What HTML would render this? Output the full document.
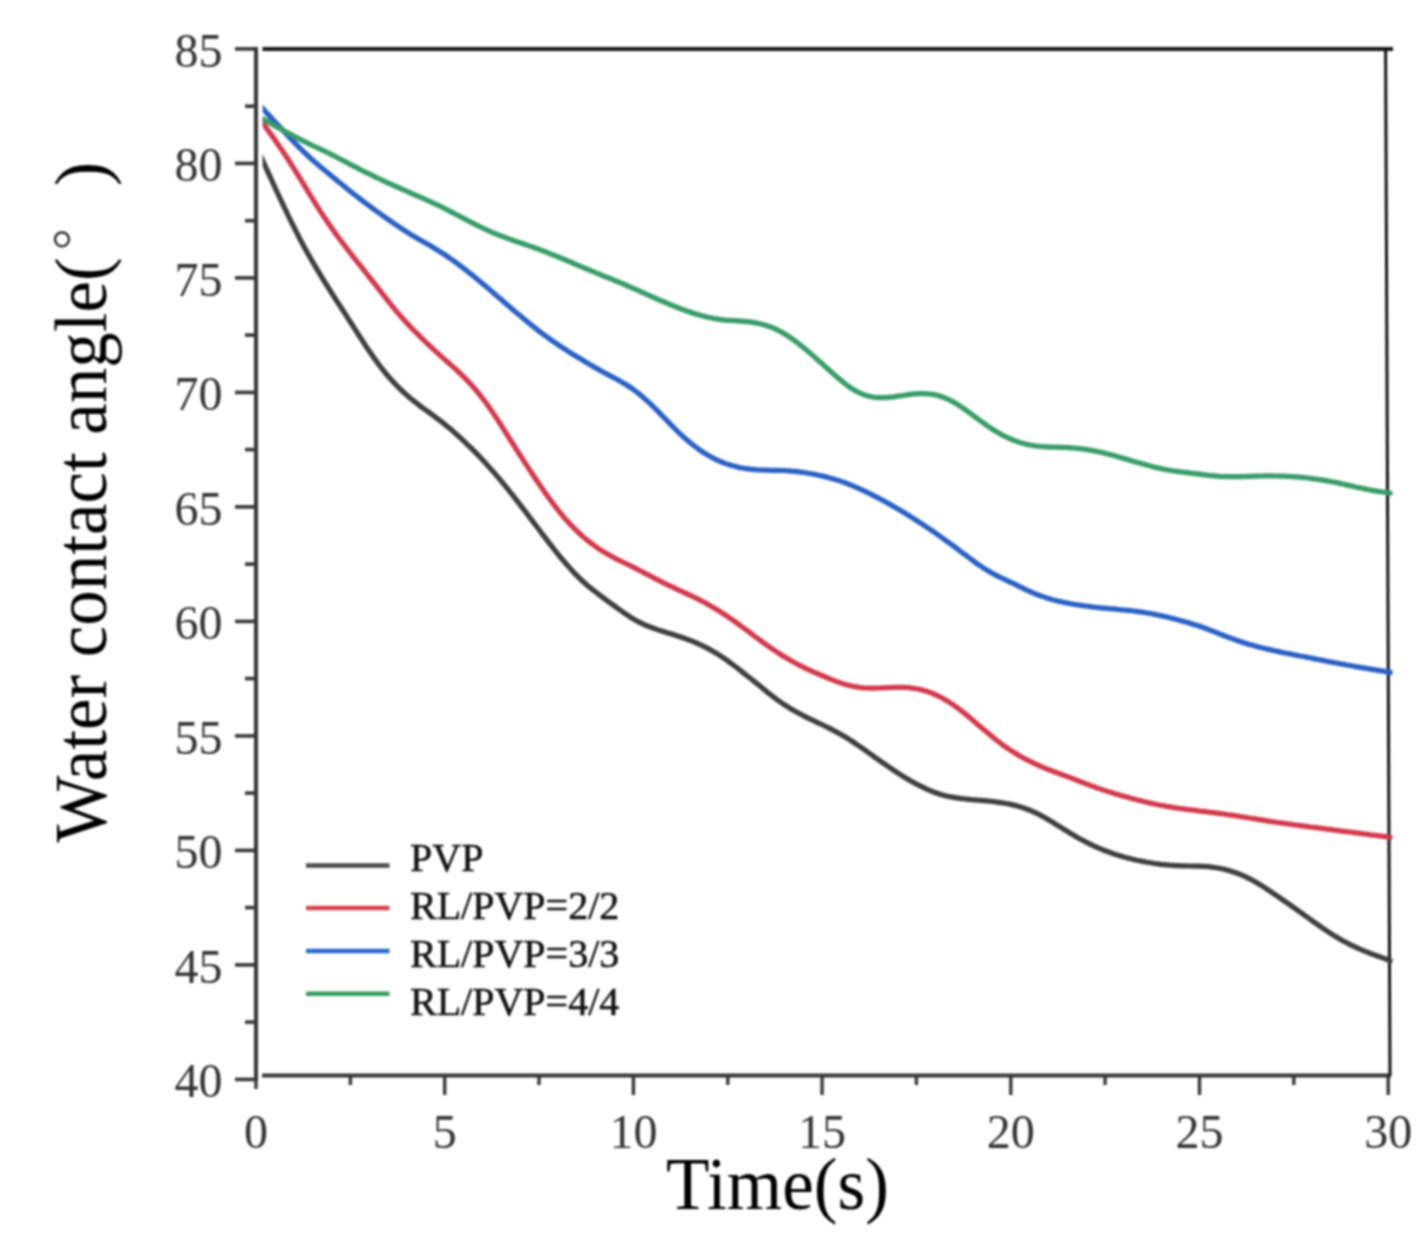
<!DOCTYPE html>
<html><head><meta charset="utf-8"><style>
html,body{margin:0;padding:0;background:#fff;width:1428px;height:1237px;overflow:hidden}
svg{display:block}
#wrap{filter:blur(0.8px)}
text{font-family:"Liberation Serif",serif}
</style></head><body>
<div id="wrap"><svg width="1428" height="1237" viewBox="0 0 1428 1237">
<rect width="1428" height="1237" fill="#fff"/>
<g fill="none" stroke-linecap="butt">
<line x1="256" y1="47" x2="256" y2="1081" stroke="#363636" stroke-width="4"/>
<line x1="262" y1="1075.6" x2="1391" y2="1075.6" stroke="#363636" stroke-width="4"/>
<line x1="262.5" y1="49" x2="1393" y2="49" stroke="#151515" stroke-width="3.8"/>
<line x1="1385.6" y1="49" x2="1390" y2="1076" stroke="#111" stroke-width="3"/>
<line x1="235.0" y1="48.9" x2="256" y2="48.9" stroke="#363636" stroke-width="3.6"/>
<line x1="245.0" y1="106.2" x2="256" y2="106.2" stroke="#363636" stroke-width="3.6"/>
<line x1="235.0" y1="163.4" x2="256" y2="163.4" stroke="#363636" stroke-width="3.6"/>
<line x1="245.0" y1="220.7" x2="256" y2="220.7" stroke="#363636" stroke-width="3.6"/>
<line x1="235.0" y1="277.9" x2="256" y2="277.9" stroke="#363636" stroke-width="3.6"/>
<line x1="245.0" y1="335.1" x2="256" y2="335.1" stroke="#363636" stroke-width="3.6"/>
<line x1="235.0" y1="392.4" x2="256" y2="392.4" stroke="#363636" stroke-width="3.6"/>
<line x1="245.0" y1="449.6" x2="256" y2="449.6" stroke="#363636" stroke-width="3.6"/>
<line x1="235.0" y1="506.9" x2="256" y2="506.9" stroke="#363636" stroke-width="3.6"/>
<line x1="245.0" y1="564.1" x2="256" y2="564.1" stroke="#363636" stroke-width="3.6"/>
<line x1="235.0" y1="621.4" x2="256" y2="621.4" stroke="#363636" stroke-width="3.6"/>
<line x1="245.0" y1="678.6" x2="256" y2="678.6" stroke="#363636" stroke-width="3.6"/>
<line x1="235.0" y1="735.9" x2="256" y2="735.9" stroke="#363636" stroke-width="3.6"/>
<line x1="245.0" y1="793.1" x2="256" y2="793.1" stroke="#363636" stroke-width="3.6"/>
<line x1="235.0" y1="850.4" x2="256" y2="850.4" stroke="#363636" stroke-width="3.6"/>
<line x1="245.0" y1="907.6" x2="256" y2="907.6" stroke="#363636" stroke-width="3.6"/>
<line x1="235.0" y1="964.9" x2="256" y2="964.9" stroke="#363636" stroke-width="3.6"/>
<line x1="245.0" y1="1022.1" x2="256" y2="1022.1" stroke="#363636" stroke-width="3.6"/>
<line x1="235.0" y1="1079.4" x2="256" y2="1079.4" stroke="#363636" stroke-width="3.6"/>
<line x1="256.0" y1="1076" x2="256.0" y2="1089.0" stroke="#363636" stroke-width="3.4"/>
<line x1="350.4" y1="1076" x2="350.4" y2="1085.0" stroke="#363636" stroke-width="3.4"/>
<line x1="444.7" y1="1076" x2="444.7" y2="1095.0" stroke="#363636" stroke-width="3.4"/>
<line x1="539.0" y1="1076" x2="539.0" y2="1085.0" stroke="#363636" stroke-width="3.4"/>
<line x1="633.4" y1="1076" x2="633.4" y2="1095.0" stroke="#363636" stroke-width="3.4"/>
<line x1="727.8" y1="1076" x2="727.8" y2="1085.0" stroke="#363636" stroke-width="3.4"/>
<line x1="822.1" y1="1076" x2="822.1" y2="1095.0" stroke="#363636" stroke-width="3.4"/>
<line x1="916.4" y1="1076" x2="916.4" y2="1085.0" stroke="#363636" stroke-width="3.4"/>
<line x1="1010.8" y1="1076" x2="1010.8" y2="1095.0" stroke="#363636" stroke-width="3.4"/>
<line x1="1105.1" y1="1076" x2="1105.1" y2="1085.0" stroke="#363636" stroke-width="3.4"/>
<line x1="1199.5" y1="1076" x2="1199.5" y2="1095.0" stroke="#363636" stroke-width="3.4"/>
<line x1="1293.8" y1="1076" x2="1293.8" y2="1085.0" stroke="#363636" stroke-width="3.4"/>
<line x1="1388.2" y1="1076" x2="1388.2" y2="1095.0" stroke="#363636" stroke-width="3.4"/>
</g>
<g fill="#333" font-size="48">
<text x="222.5" y="66.9" text-anchor="end">85</text>
<text x="222.5" y="181.4" text-anchor="end">80</text>
<text x="222.5" y="295.9" text-anchor="end">75</text>
<text x="222.5" y="410.4" text-anchor="end">70</text>
<text x="222.5" y="524.9" text-anchor="end">65</text>
<text x="222.5" y="639.4" text-anchor="end">60</text>
<text x="222.5" y="753.9" text-anchor="end">55</text>
<text x="222.5" y="868.4" text-anchor="end">50</text>
<text x="222.5" y="982.9" text-anchor="end">45</text>
<text x="222.5" y="1097.4" text-anchor="end">40</text>
<text x="256.0" y="1147.5" text-anchor="middle">0</text>
<text x="444.7" y="1147.5" text-anchor="middle">5</text>
<text x="633.4" y="1147.5" text-anchor="middle">10</text>
<text x="822.1" y="1147.5" text-anchor="middle">15</text>
<text x="1010.8" y="1147.5" text-anchor="middle">20</text>
<text x="1199.5" y="1147.5" text-anchor="middle">25</text>
<text x="1388.2" y="1147.5" text-anchor="middle">30</text>
</g>
<defs><clipPath id="pc"><rect x="262.6" y="40" width="1130" height="1040"/></clipPath></defs>
<g fill="none" stroke-width="5.2" stroke-linejoin="round" stroke-linecap="round" clip-path="url(#pc)">
<path d="M260.7 156.0 L263.7 162.7 L266.7 169.3 L269.7 175.9 L272.7 182.5 L275.7 189.0 L278.7 195.5 L281.7 201.9 L284.7 208.2 L287.7 214.5 L290.7 220.6 L293.7 226.7 L296.7 232.7 L299.7 238.5 L302.7 244.2 L305.7 249.7 L308.7 255.1 L311.7 260.3 L314.7 265.4 L317.7 270.4 L320.7 275.4 L323.7 280.3 L326.7 285.1 L329.7 289.9 L332.7 294.6 L335.7 299.3 L338.7 303.9 L341.7 308.5 L344.7 313.2 L347.7 317.8 L350.7 322.5 L353.7 327.2 L356.7 331.9 L359.7 336.6 L362.7 341.2 L365.7 345.8 L368.7 350.3 L371.7 354.6 L374.7 358.9 L377.7 363.0 L380.7 367.0 L383.7 370.8 L386.7 374.5 L389.7 378.0 L392.7 381.3 L395.7 384.5 L398.7 387.5 L401.7 390.5 L404.7 393.2 L407.7 395.9 L410.7 398.5 L413.7 400.9 L416.7 403.3 L419.7 405.6 L422.7 407.8 L425.7 410.0 L428.7 412.2 L431.7 414.3 L434.7 416.6 L437.7 418.8 L440.7 421.1 L443.7 423.4 L446.7 425.9 L449.7 428.3 L452.7 430.9 L455.7 433.6 L458.7 436.3 L461.7 439.1 L464.7 441.9 L467.7 444.8 L470.7 447.7 L473.7 450.7 L476.7 453.7 L479.7 456.8 L482.7 460.0 L485.7 463.2 L488.7 466.6 L491.7 469.9 L494.7 473.4 L497.7 476.9 L500.7 480.4 L503.7 484.1 L506.7 487.7 L509.7 491.5 L512.7 495.2 L515.7 499.1 L518.7 502.9 L521.7 506.8 L524.7 510.7 L527.7 514.6 L530.7 518.6 L533.7 522.6 L536.7 526.5 L539.7 530.5 L542.7 534.5 L545.7 538.4 L548.7 542.3 L551.7 546.2 L554.7 550.0 L557.7 553.8 L560.7 557.5 L563.7 561.0 L566.7 564.5 L569.7 567.9 L572.7 571.2 L575.7 574.4 L578.7 577.4 L581.7 580.3 L584.7 583.0 L587.7 585.7 L590.7 588.1 L593.7 590.5 L596.7 592.8 L599.7 595.1 L602.7 597.3 L605.7 599.6 L608.7 601.8 L611.7 604.0 L614.7 606.2 L617.7 608.3 L620.7 610.5 L623.7 612.6 L626.7 614.7 L629.7 616.7 L632.7 618.6 L635.7 620.3 L638.7 621.9 L641.7 623.4 L644.7 624.8 L647.7 626.0 L650.7 627.2 L653.7 628.3 L656.7 629.4 L659.7 630.4 L662.7 631.3 L665.7 632.3 L668.7 633.2 L671.7 634.1 L674.7 635.0 L677.7 636.0 L680.7 637.0 L683.7 638.0 L686.7 639.1 L689.7 640.2 L692.7 641.4 L695.7 642.7 L698.7 644.0 L701.7 645.4 L704.7 646.8 L707.7 648.4 L710.7 650.0 L713.7 651.7 L716.7 653.5 L719.7 655.4 L722.7 657.4 L725.7 659.4 L728.7 661.6 L731.7 663.8 L734.7 666.0 L737.7 668.3 L740.7 670.7 L743.7 673.1 L746.7 675.5 L749.7 677.8 L752.7 680.2 L755.7 682.6 L758.7 685.1 L761.7 687.5 L764.7 689.9 L767.7 692.4 L770.7 694.8 L773.7 697.1 L776.7 699.3 L779.7 701.5 L782.7 703.6 L785.7 705.5 L788.7 707.4 L791.7 709.2 L794.7 711.0 L797.7 712.6 L800.7 714.2 L803.7 715.8 L806.7 717.3 L809.7 718.8 L812.7 720.2 L815.7 721.6 L818.7 723.1 L821.7 724.5 L824.7 726.0 L827.7 727.4 L830.7 728.9 L833.7 730.5 L836.7 732.1 L839.7 733.7 L842.7 735.5 L845.7 737.3 L848.7 739.1 L851.7 741.0 L854.7 743.0 L857.7 745.1 L860.7 747.1 L863.7 749.2 L866.7 751.3 L869.7 753.5 L872.7 755.6 L875.7 757.8 L878.7 759.9 L881.7 762.0 L884.7 764.1 L887.7 766.2 L890.7 768.2 L893.7 770.3 L896.7 772.2 L899.7 774.2 L902.7 776.1 L905.7 777.9 L908.7 779.7 L911.7 781.4 L914.7 783.1 L917.7 784.7 L920.7 786.2 L923.7 787.7 L926.7 789.1 L929.7 790.4 L932.7 791.7 L935.7 792.8 L938.7 793.8 L941.7 794.8 L944.7 795.6 L947.7 796.3 L950.7 796.9 L953.7 797.4 L956.7 797.9 L959.7 798.3 L962.7 798.7 L965.7 799.0 L968.7 799.3 L971.7 799.6 L974.7 799.8 L977.7 800.1 L980.7 800.3 L983.7 800.6 L986.7 800.9 L989.7 801.2 L992.7 801.5 L995.7 801.9 L998.7 802.3 L1001.7 802.7 L1004.7 803.2 L1007.7 803.8 L1010.7 804.4 L1013.7 805.1 L1016.7 805.8 L1019.7 806.7 L1022.7 807.6 L1025.7 808.7 L1028.7 809.8 L1031.7 811.0 L1034.7 812.4 L1037.7 813.8 L1040.7 815.4 L1043.7 817.0 L1046.7 818.7 L1049.7 820.5 L1052.7 822.3 L1055.7 824.2 L1058.7 826.0 L1061.7 827.9 L1064.7 829.8 L1067.7 831.6 L1070.7 833.4 L1073.7 835.2 L1076.7 837.0 L1079.7 838.7 L1082.7 840.3 L1085.7 841.9 L1088.7 843.4 L1091.7 844.9 L1094.7 846.3 L1097.7 847.6 L1100.7 848.9 L1103.7 850.2 L1106.7 851.3 L1109.7 852.4 L1112.7 853.5 L1115.7 854.5 L1118.7 855.4 L1121.7 856.3 L1124.7 857.2 L1127.7 858.0 L1130.7 858.8 L1133.7 859.5 L1136.7 860.2 L1139.7 860.8 L1142.7 861.4 L1145.7 862.0 L1148.7 862.5 L1151.7 863.0 L1154.7 863.5 L1157.7 863.9 L1160.7 864.3 L1163.7 864.6 L1166.7 864.9 L1169.7 865.2 L1172.7 865.4 L1175.7 865.6 L1178.7 865.7 L1181.7 865.8 L1184.7 865.9 L1187.7 866.0 L1190.7 866.0 L1193.7 866.1 L1196.7 866.1 L1199.7 866.2 L1202.7 866.3 L1205.7 866.5 L1208.7 866.7 L1211.7 867.1 L1214.7 867.5 L1217.7 868.0 L1220.7 868.5 L1223.7 869.2 L1226.7 869.9 L1229.7 870.8 L1232.7 871.7 L1235.7 872.7 L1238.7 873.8 L1241.7 875.0 L1244.7 876.4 L1247.7 877.8 L1250.7 879.3 L1253.7 881.0 L1256.7 882.7 L1259.7 884.5 L1262.7 886.4 L1265.7 888.3 L1268.7 890.2 L1271.7 892.3 L1274.7 894.3 L1277.7 896.4 L1280.7 898.5 L1283.7 900.5 L1286.7 902.6 L1289.7 904.7 L1292.7 906.8 L1295.7 908.9 L1298.7 911.1 L1301.7 913.2 L1304.7 915.3 L1307.7 917.5 L1310.7 919.6 L1313.7 921.8 L1316.7 923.9 L1319.7 926.0 L1322.7 928.1 L1325.7 930.1 L1328.7 932.1 L1331.7 934.1 L1334.7 936.0 L1337.7 937.8 L1340.7 939.6 L1343.7 941.2 L1346.7 942.8 L1349.7 944.4 L1352.7 945.8 L1355.7 947.2 L1358.7 948.6 L1361.7 949.9 L1364.7 951.1 L1367.7 952.3 L1370.7 953.5 L1373.7 954.6 L1376.7 955.7 L1379.7 956.8 L1382.7 957.9 L1385.7 959.0 L1388.7 960.1 L1390.5 960.7" stroke="#3e3e3e"/>
<path d="M260.7 120.3 L263.7 124.4 L266.7 128.5 L269.7 132.6 L272.7 136.8 L275.7 141.1 L278.7 145.4 L281.7 149.8 L284.7 154.3 L287.7 158.8 L290.7 163.5 L293.7 168.2 L296.7 173.0 L299.7 177.8 L302.7 182.7 L305.7 187.7 L308.7 192.6 L311.7 197.5 L314.7 202.3 L317.7 207.1 L320.7 211.8 L323.7 216.4 L326.7 220.8 L329.7 225.2 L332.7 229.5 L335.7 233.6 L338.7 237.7 L341.7 241.7 L344.7 245.7 L347.7 249.6 L350.7 253.5 L353.7 257.3 L356.7 261.2 L359.7 264.9 L362.7 268.7 L365.7 272.5 L368.7 276.3 L371.7 280.1 L374.7 283.9 L377.7 287.7 L380.7 291.6 L383.7 295.4 L386.7 299.2 L389.7 303.0 L392.7 306.7 L395.7 310.3 L398.7 313.9 L401.7 317.3 L404.7 320.7 L407.7 323.9 L410.7 327.1 L413.7 330.2 L416.7 333.2 L419.7 336.2 L422.7 339.1 L425.7 342.0 L428.7 344.9 L431.7 347.7 L434.7 350.4 L437.7 353.2 L440.7 355.9 L443.7 358.6 L446.7 361.2 L449.7 363.9 L452.7 366.6 L455.7 369.2 L458.7 372.0 L461.7 374.8 L464.7 377.8 L467.7 380.9 L470.7 384.1 L473.7 387.5 L476.7 391.0 L479.7 394.7 L482.7 398.5 L485.7 402.5 L488.7 406.6 L491.7 410.9 L494.7 415.4 L497.7 419.9 L500.7 424.6 L503.7 429.3 L506.7 434.0 L509.7 438.8 L512.7 443.5 L515.7 448.3 L518.7 453.0 L521.7 457.7 L524.7 462.3 L527.7 466.9 L530.7 471.5 L533.7 476.0 L536.7 480.5 L539.7 484.9 L542.7 489.2 L545.7 493.5 L548.7 497.7 L551.7 501.8 L554.7 505.8 L557.7 509.7 L560.7 513.4 L563.7 517.0 L566.7 520.4 L569.7 523.7 L572.7 526.8 L575.7 529.8 L578.7 532.7 L581.7 535.5 L584.7 538.1 L587.7 540.6 L590.7 542.9 L593.7 545.2 L596.7 547.3 L599.7 549.3 L602.7 551.3 L605.7 553.1 L608.7 554.8 L611.7 556.5 L614.7 558.1 L617.7 559.6 L620.7 561.1 L623.7 562.5 L626.7 564.0 L629.7 565.4 L632.7 566.9 L635.7 568.4 L638.7 570.0 L641.7 571.5 L644.7 573.1 L647.7 574.7 L650.7 576.2 L653.7 577.8 L656.7 579.3 L659.7 580.8 L662.7 582.3 L665.7 583.8 L668.7 585.3 L671.7 586.7 L674.7 588.1 L677.7 589.6 L680.7 590.9 L683.7 592.3 L686.7 593.7 L689.7 595.1 L692.7 596.5 L695.7 597.9 L698.7 599.4 L701.7 601.0 L704.7 602.5 L707.7 604.2 L710.7 605.9 L713.7 607.7 L716.7 609.5 L719.7 611.3 L722.7 613.3 L725.7 615.2 L728.7 617.3 L731.7 619.3 L734.7 621.4 L737.7 623.6 L740.7 625.8 L743.7 628.0 L746.7 630.2 L749.7 632.4 L752.7 634.7 L755.7 637.0 L758.7 639.2 L761.7 641.4 L764.7 643.6 L767.7 645.7 L770.7 647.8 L773.7 649.9 L776.7 651.9 L779.7 653.8 L782.7 655.7 L785.7 657.5 L788.7 659.3 L791.7 661.0 L794.7 662.7 L797.7 664.3 L800.7 665.8 L803.7 667.3 L806.7 668.8 L809.7 670.2 L812.7 671.6 L815.7 672.9 L818.7 674.2 L821.7 675.5 L824.7 676.7 L827.7 678.0 L830.7 679.2 L833.7 680.4 L836.7 681.6 L839.7 682.6 L842.7 683.6 L845.7 684.6 L848.7 685.3 L851.7 686.0 L854.7 686.6 L857.7 687.1 L860.7 687.5 L863.7 687.8 L866.7 688.0 L869.7 688.1 L872.7 688.2 L875.7 688.1 L878.7 688.0 L881.7 687.9 L884.7 687.8 L887.7 687.6 L890.7 687.5 L893.7 687.4 L896.7 687.4 L899.7 687.4 L902.7 687.4 L905.7 687.5 L908.7 687.7 L911.7 688.1 L914.7 688.5 L917.7 689.0 L920.7 689.6 L923.7 690.4 L926.7 691.3 L929.7 692.4 L932.7 693.5 L935.7 694.8 L938.7 696.2 L941.7 697.8 L944.7 699.4 L947.7 701.2 L950.7 703.1 L953.7 705.1 L956.7 707.3 L959.7 709.5 L962.7 711.9 L965.7 714.3 L968.7 716.8 L971.7 719.3 L974.7 721.9 L977.7 724.4 L980.7 727.0 L983.7 729.5 L986.7 732.0 L989.7 734.5 L992.7 737.0 L995.7 739.5 L998.7 741.8 L1001.7 744.1 L1004.7 746.3 L1007.7 748.4 L1010.7 750.4 L1013.7 752.3 L1016.7 754.1 L1019.7 755.9 L1022.7 757.6 L1025.7 759.2 L1028.7 760.7 L1031.7 762.2 L1034.7 763.6 L1037.7 765.0 L1040.7 766.3 L1043.7 767.6 L1046.7 768.8 L1049.7 770.0 L1052.7 771.2 L1055.7 772.3 L1058.7 773.4 L1061.7 774.5 L1064.7 775.6 L1067.7 776.7 L1070.7 777.9 L1073.7 779.0 L1076.7 780.2 L1079.7 781.3 L1082.7 782.5 L1085.7 783.6 L1088.7 784.8 L1091.7 785.9 L1094.7 787.0 L1097.7 788.1 L1100.7 789.1 L1103.7 790.1 L1106.7 791.1 L1109.7 792.1 L1112.7 793.0 L1115.7 793.9 L1118.7 794.8 L1121.7 795.7 L1124.7 796.5 L1127.7 797.3 L1130.7 798.2 L1133.7 799.0 L1136.7 799.7 L1139.7 800.5 L1142.7 801.3 L1145.7 802.0 L1148.7 802.7 L1151.7 803.4 L1154.7 804.0 L1157.7 804.7 L1160.7 805.3 L1163.7 805.8 L1166.7 806.4 L1169.7 806.9 L1172.7 807.4 L1175.7 807.8 L1178.7 808.3 L1181.7 808.7 L1184.7 809.1 L1187.7 809.5 L1190.7 809.9 L1193.7 810.2 L1196.7 810.6 L1199.7 811.0 L1202.7 811.3 L1205.7 811.7 L1208.7 812.1 L1211.7 812.4 L1214.7 812.8 L1217.7 813.2 L1220.7 813.6 L1223.7 814.0 L1226.7 814.5 L1229.7 814.9 L1232.7 815.3 L1235.7 815.8 L1238.7 816.2 L1241.7 816.7 L1244.7 817.2 L1247.7 817.7 L1250.7 818.2 L1253.7 818.7 L1256.7 819.1 L1259.7 819.6 L1262.7 820.1 L1265.7 820.6 L1268.7 821.1 L1271.7 821.6 L1274.7 822.0 L1277.7 822.5 L1280.7 822.9 L1283.7 823.3 L1286.7 823.7 L1289.7 824.2 L1292.7 824.6 L1295.7 825.0 L1298.7 825.4 L1301.7 825.8 L1304.7 826.2 L1307.7 826.6 L1310.7 827.0 L1313.7 827.3 L1316.7 827.7 L1319.7 828.1 L1322.7 828.5 L1325.7 828.9 L1328.7 829.3 L1331.7 829.7 L1334.7 830.1 L1337.7 830.5 L1340.7 830.9 L1343.7 831.3 L1346.7 831.7 L1349.7 832.0 L1352.7 832.4 L1355.7 832.8 L1358.7 833.2 L1361.7 833.6 L1364.7 834.0 L1367.7 834.4 L1370.7 834.8 L1373.7 835.1 L1376.7 835.5 L1379.7 835.9 L1382.7 836.3 L1385.7 836.7 L1388.7 837.1 L1390.5 837.3" stroke="#d2384c"/>
<path d="M260.7 106.3 L263.7 109.6 L266.7 112.9 L269.7 116.1 L272.7 119.4 L275.7 122.7 L278.7 125.9 L281.7 129.1 L284.7 132.3 L287.7 135.5 L290.7 138.6 L293.7 141.8 L296.7 144.8 L299.7 147.9 L302.7 150.8 L305.7 153.7 L308.7 156.5 L311.7 159.3 L314.7 161.9 L317.7 164.5 L320.7 167.1 L323.7 169.6 L326.7 172.1 L329.7 174.6 L332.7 177.0 L335.7 179.4 L338.7 181.9 L341.7 184.3 L344.7 186.8 L347.7 189.2 L350.7 191.6 L353.7 194.0 L356.7 196.3 L359.7 198.6 L362.7 200.9 L365.7 203.2 L368.7 205.4 L371.7 207.6 L374.7 209.8 L377.7 212.0 L380.7 214.1 L383.7 216.3 L386.7 218.4 L389.7 220.5 L392.7 222.6 L395.7 224.6 L398.7 226.7 L401.7 228.6 L404.7 230.6 L407.7 232.5 L410.7 234.4 L413.7 236.2 L416.7 237.9 L419.7 239.7 L422.7 241.4 L425.7 243.1 L428.7 244.8 L431.7 246.6 L434.7 248.4 L437.7 250.2 L440.7 252.1 L443.7 254.0 L446.7 256.0 L449.7 258.1 L452.7 260.2 L455.7 262.3 L458.7 264.6 L461.7 266.8 L464.7 269.1 L467.7 271.5 L470.7 273.9 L473.7 276.3 L476.7 278.7 L479.7 281.2 L482.7 283.7 L485.7 286.3 L488.7 288.8 L491.7 291.4 L494.7 294.0 L497.7 296.6 L500.7 299.1 L503.7 301.7 L506.7 304.3 L509.7 306.9 L512.7 309.5 L515.7 312.1 L518.7 314.6 L521.7 317.1 L524.7 319.6 L527.7 322.1 L530.7 324.5 L533.7 326.9 L536.7 329.3 L539.7 331.6 L542.7 333.8 L545.7 336.0 L548.7 338.2 L551.7 340.3 L554.7 342.4 L557.7 344.5 L560.7 346.5 L563.7 348.4 L566.7 350.4 L569.7 352.3 L572.7 354.2 L575.7 356.0 L578.7 357.8 L581.7 359.6 L584.7 361.4 L587.7 363.2 L590.7 364.9 L593.7 366.7 L596.7 368.4 L599.7 370.1 L602.7 371.7 L605.7 373.4 L608.7 375.0 L611.7 376.6 L614.7 378.2 L617.7 379.8 L620.7 381.5 L623.7 383.2 L626.7 385.0 L629.7 387.0 L632.7 389.0 L635.7 391.3 L638.7 393.6 L641.7 396.1 L644.7 398.7 L647.7 401.4 L650.7 404.2 L653.7 407.1 L656.7 410.0 L659.7 413.1 L662.7 416.2 L665.7 419.3 L668.7 422.4 L671.7 425.5 L674.7 428.5 L677.7 431.5 L680.7 434.4 L683.7 437.1 L686.7 439.8 L689.7 442.3 L692.7 444.7 L695.7 447.0 L698.7 449.2 L701.7 451.3 L704.7 453.3 L707.7 455.1 L710.7 456.8 L713.7 458.4 L716.7 459.9 L719.7 461.2 L722.7 462.5 L725.7 463.6 L728.7 464.6 L731.7 465.5 L734.7 466.3 L737.7 467.1 L740.7 467.7 L743.7 468.2 L746.7 468.7 L749.7 469.1 L752.7 469.4 L755.7 469.7 L758.7 469.9 L761.7 470.0 L764.7 470.1 L767.7 470.2 L770.7 470.3 L773.7 470.3 L776.7 470.4 L779.7 470.5 L782.7 470.5 L785.7 470.7 L788.7 470.8 L791.7 471.1 L794.7 471.3 L797.7 471.7 L800.7 472.1 L803.7 472.5 L806.7 473.0 L809.7 473.5 L812.7 474.0 L815.7 474.6 L818.7 475.3 L821.7 475.9 L824.7 476.6 L827.7 477.4 L830.7 478.2 L833.7 479.0 L836.7 479.9 L839.7 480.9 L842.7 481.9 L845.7 483.0 L848.7 484.1 L851.7 485.4 L854.7 486.6 L857.7 488.0 L860.7 489.3 L863.7 490.7 L866.7 492.2 L869.7 493.6 L872.7 495.1 L875.7 496.7 L878.7 498.2 L881.7 499.8 L884.7 501.4 L887.7 503.1 L890.7 504.7 L893.7 506.5 L896.7 508.2 L899.7 510.0 L902.7 511.8 L905.7 513.6 L908.7 515.5 L911.7 517.4 L914.7 519.3 L917.7 521.2 L920.7 523.1 L923.7 525.1 L926.7 527.1 L929.7 529.1 L932.7 531.2 L935.7 533.2 L938.7 535.3 L941.7 537.5 L944.7 539.6 L947.7 541.8 L950.7 544.0 L953.7 546.2 L956.7 548.4 L959.7 550.7 L962.7 553.0 L965.7 555.2 L968.7 557.5 L971.7 559.7 L974.7 561.9 L977.7 564.1 L980.7 566.1 L983.7 568.1 L986.7 570.0 L989.7 571.8 L992.7 573.5 L995.7 575.1 L998.7 576.6 L1001.7 578.0 L1004.7 579.4 L1007.7 580.8 L1010.7 582.3 L1013.7 583.7 L1016.7 585.2 L1019.7 586.7 L1022.7 588.1 L1025.7 589.6 L1028.7 591.0 L1031.7 592.3 L1034.7 593.6 L1037.7 594.8 L1040.7 595.9 L1043.7 596.9 L1046.7 597.9 L1049.7 598.8 L1052.7 599.7 L1055.7 600.5 L1058.7 601.2 L1061.7 601.9 L1064.7 602.5 L1067.7 603.1 L1070.7 603.7 L1073.7 604.2 L1076.7 604.7 L1079.7 605.2 L1082.7 605.6 L1085.7 606.0 L1088.7 606.4 L1091.7 606.8 L1094.7 607.2 L1097.7 607.5 L1100.7 607.8 L1103.7 608.1 L1106.7 608.4 L1109.7 608.7 L1112.7 608.9 L1115.7 609.2 L1118.7 609.5 L1121.7 609.8 L1124.7 610.0 L1127.7 610.3 L1130.7 610.7 L1133.7 611.0 L1136.7 611.4 L1139.7 611.8 L1142.7 612.2 L1145.7 612.7 L1148.7 613.2 L1151.7 613.8 L1154.7 614.4 L1157.7 615.0 L1160.7 615.6 L1163.7 616.3 L1166.7 617.0 L1169.7 617.8 L1172.7 618.5 L1175.7 619.3 L1178.7 620.1 L1181.7 620.9 L1184.7 621.7 L1187.7 622.6 L1190.7 623.5 L1193.7 624.4 L1196.7 625.3 L1199.7 626.3 L1202.7 627.4 L1205.7 628.5 L1208.7 629.6 L1211.7 630.8 L1214.7 631.9 L1217.7 633.1 L1220.7 634.3 L1223.7 635.5 L1226.7 636.7 L1229.7 637.8 L1232.7 638.9 L1235.7 640.0 L1238.7 641.0 L1241.7 642.0 L1244.7 643.0 L1247.7 643.9 L1250.7 644.8 L1253.7 645.6 L1256.7 646.4 L1259.7 647.2 L1262.7 648.0 L1265.7 648.7 L1268.7 649.4 L1271.7 650.1 L1274.7 650.8 L1277.7 651.4 L1280.7 652.1 L1283.7 652.7 L1286.7 653.3 L1289.7 653.9 L1292.7 654.5 L1295.7 655.1 L1298.7 655.7 L1301.7 656.3 L1304.7 656.8 L1307.7 657.4 L1310.7 658.0 L1313.7 658.6 L1316.7 659.2 L1319.7 659.8 L1322.7 660.4 L1325.7 661.0 L1328.7 661.6 L1331.7 662.1 L1334.7 662.7 L1337.7 663.3 L1340.7 663.9 L1343.7 664.4 L1346.7 665.0 L1349.7 665.5 L1352.7 666.0 L1355.7 666.6 L1358.7 667.1 L1361.7 667.6 L1364.7 668.1 L1367.7 668.6 L1370.7 669.1 L1373.7 669.6 L1376.7 670.1 L1379.7 670.6 L1382.7 671.1 L1385.7 671.6 L1388.7 672.1 L1390.5 672.4" stroke="#2860c4"/>
<path d="M260.7 117.7 L263.7 119.4 L266.7 121.1 L269.7 122.8 L272.7 124.5 L275.7 126.2 L278.7 127.9 L281.7 129.6 L284.7 131.2 L287.7 132.8 L290.7 134.4 L293.7 136.0 L296.7 137.6 L299.7 139.1 L302.7 140.7 L305.7 142.1 L308.7 143.6 L311.7 145.1 L314.7 146.5 L317.7 147.9 L320.7 149.3 L323.7 150.7 L326.7 152.2 L329.7 153.6 L332.7 155.2 L335.7 156.7 L338.7 158.3 L341.7 159.8 L344.7 161.4 L347.7 163.0 L350.7 164.6 L353.7 166.2 L356.7 167.7 L359.7 169.2 L362.7 170.8 L365.7 172.3 L368.7 173.7 L371.7 175.2 L374.7 176.7 L377.7 178.1 L380.7 179.5 L383.7 180.9 L386.7 182.3 L389.7 183.7 L392.7 185.0 L395.7 186.4 L398.7 187.7 L401.7 189.0 L404.7 190.4 L407.7 191.7 L410.7 193.0 L413.7 194.3 L416.7 195.6 L419.7 196.9 L422.7 198.2 L425.7 199.6 L428.7 200.9 L431.7 202.3 L434.7 203.7 L437.7 205.1 L440.7 206.5 L443.7 208.0 L446.7 209.5 L449.7 211.1 L452.7 212.6 L455.7 214.2 L458.7 215.8 L461.7 217.4 L464.7 218.9 L467.7 220.5 L470.7 222.1 L473.7 223.6 L476.7 225.1 L479.7 226.6 L482.7 228.0 L485.7 229.4 L488.7 230.8 L491.7 232.1 L494.7 233.4 L497.7 234.6 L500.7 235.8 L503.7 236.9 L506.7 238.0 L509.7 239.1 L512.7 240.2 L515.7 241.2 L518.7 242.3 L521.7 243.3 L524.7 244.3 L527.7 245.4 L530.7 246.4 L533.7 247.5 L536.7 248.5 L539.7 249.6 L542.7 250.8 L545.7 251.9 L548.7 253.1 L551.7 254.3 L554.7 255.5 L557.7 256.7 L560.7 258.0 L563.7 259.2 L566.7 260.5 L569.7 261.7 L572.7 263.0 L575.7 264.3 L578.7 265.6 L581.7 266.9 L584.7 268.1 L587.7 269.4 L590.7 270.6 L593.7 271.9 L596.7 273.1 L599.7 274.3 L602.7 275.6 L605.7 276.8 L608.7 278.0 L611.7 279.2 L614.7 280.5 L617.7 281.7 L620.7 282.9 L623.7 284.2 L626.7 285.5 L629.7 286.8 L632.7 288.1 L635.7 289.4 L638.7 290.7 L641.7 292.1 L644.7 293.4 L647.7 294.8 L650.7 296.1 L653.7 297.5 L656.7 298.8 L659.7 300.1 L662.7 301.4 L665.7 302.7 L668.7 304.0 L671.7 305.2 L674.7 306.4 L677.7 307.6 L680.7 308.8 L683.7 309.9 L686.7 311.0 L689.7 312.0 L692.7 313.0 L695.7 313.9 L698.7 314.8 L701.7 315.7 L704.7 316.4 L707.7 317.2 L710.7 317.8 L713.7 318.4 L716.7 318.9 L719.7 319.4 L722.7 319.8 L725.7 320.1 L728.7 320.3 L731.7 320.5 L734.7 320.7 L737.7 320.9 L740.7 321.1 L743.7 321.3 L746.7 321.6 L749.7 321.9 L752.7 322.4 L755.7 322.9 L758.7 323.5 L761.7 324.2 L764.7 325.1 L767.7 326.0 L770.7 327.0 L773.7 328.2 L776.7 329.6 L779.7 331.1 L782.7 332.7 L785.7 334.5 L788.7 336.5 L791.7 338.5 L794.7 340.7 L797.7 343.0 L800.7 345.4 L803.7 347.8 L806.7 350.3 L809.7 352.8 L812.7 355.4 L815.7 358.1 L818.7 360.7 L821.7 363.4 L824.7 366.1 L827.7 368.8 L830.7 371.5 L833.7 374.1 L836.7 376.8 L839.7 379.3 L842.7 381.8 L845.7 384.2 L848.7 386.5 L851.7 388.5 L854.7 390.4 L857.7 392.0 L860.7 393.4 L863.7 394.6 L866.7 395.6 L869.7 396.4 L872.7 397.0 L875.7 397.4 L878.7 397.6 L881.7 397.7 L884.7 397.6 L887.7 397.4 L890.7 397.1 L893.7 396.8 L896.7 396.4 L899.7 395.9 L902.7 395.5 L905.7 395.0 L908.7 394.6 L911.7 394.2 L914.7 393.9 L917.7 393.7 L920.7 393.6 L923.7 393.6 L926.7 393.8 L929.7 394.0 L932.7 394.4 L935.7 395.0 L938.7 395.8 L941.7 396.7 L944.7 397.8 L947.7 399.1 L950.7 400.5 L953.7 402.2 L956.7 404.0 L959.7 405.9 L962.7 407.9 L965.7 410.0 L968.7 412.1 L971.7 414.3 L974.7 416.6 L977.7 418.8 L980.7 421.0 L983.7 423.2 L986.7 425.3 L989.7 427.3 L992.7 429.3 L995.7 431.2 L998.7 433.0 L1001.7 434.7 L1004.7 436.3 L1007.7 437.7 L1010.7 439.0 L1013.7 440.3 L1016.7 441.4 L1019.7 442.4 L1022.7 443.3 L1025.7 444.1 L1028.7 444.8 L1031.7 445.3 L1034.7 445.8 L1037.7 446.2 L1040.7 446.5 L1043.7 446.7 L1046.7 446.9 L1049.7 447.1 L1052.7 447.2 L1055.7 447.2 L1058.7 447.3 L1061.7 447.4 L1064.7 447.5 L1067.7 447.6 L1070.7 447.8 L1073.7 448.0 L1076.7 448.3 L1079.7 448.6 L1082.7 449.0 L1085.7 449.4 L1088.7 449.9 L1091.7 450.4 L1094.7 451.0 L1097.7 451.6 L1100.7 452.2 L1103.7 452.9 L1106.7 453.7 L1109.7 454.5 L1112.7 455.3 L1115.7 456.1 L1118.7 456.9 L1121.7 457.8 L1124.7 458.7 L1127.7 459.6 L1130.7 460.5 L1133.7 461.4 L1136.7 462.3 L1139.7 463.1 L1142.7 464.0 L1145.7 464.8 L1148.7 465.6 L1151.7 466.4 L1154.7 467.2 L1157.7 467.9 L1160.7 468.5 L1163.7 469.2 L1166.7 469.7 L1169.7 470.3 L1172.7 470.7 L1175.7 471.2 L1178.7 471.6 L1181.7 472.0 L1184.7 472.3 L1187.7 472.7 L1190.7 473.1 L1193.7 473.4 L1196.7 473.8 L1199.7 474.2 L1202.7 474.6 L1205.7 474.9 L1208.7 475.3 L1211.7 475.6 L1214.7 475.9 L1217.7 476.2 L1220.7 476.4 L1223.7 476.5 L1226.7 476.7 L1229.7 476.7 L1232.7 476.7 L1235.7 476.7 L1238.7 476.7 L1241.7 476.6 L1244.7 476.5 L1247.7 476.4 L1250.7 476.3 L1253.7 476.2 L1256.7 476.1 L1259.7 476.0 L1262.7 476.0 L1265.7 475.9 L1268.7 475.9 L1271.7 475.9 L1274.7 476.0 L1277.7 476.0 L1280.7 476.1 L1283.7 476.2 L1286.7 476.3 L1289.7 476.5 L1292.7 476.7 L1295.7 476.9 L1298.7 477.1 L1301.7 477.4 L1304.7 477.7 L1307.7 478.0 L1310.7 478.4 L1313.7 478.8 L1316.7 479.2 L1319.7 479.6 L1322.7 480.1 L1325.7 480.6 L1328.7 481.1 L1331.7 481.7 L1334.7 482.3 L1337.7 482.9 L1340.7 483.6 L1343.7 484.2 L1346.7 484.9 L1349.7 485.6 L1352.7 486.3 L1355.7 487.0 L1358.7 487.6 L1361.7 488.3 L1364.7 488.9 L1367.7 489.5 L1370.7 490.1 L1373.7 490.6 L1376.7 491.1 L1379.7 491.6 L1382.7 492.0 L1385.7 492.4 L1388.7 492.9 L1390.5 493.1" stroke="#379c68"/>
</g>
<g fill="none" stroke-width="4.6">
<line x1="306" y1="865.5" x2="389.5" y2="865.5" stroke="#4a4a4a"/>
<line x1="306" y1="908" x2="389.5" y2="908" stroke="#d8404f"/>
<line x1="306" y1="951" x2="389.5" y2="951" stroke="#2a68cc"/>
<line x1="306" y1="993.8" x2="389.5" y2="993.8" stroke="#3a9a62"/>
</g>
<g fill="#111" stroke="#111" stroke-width="0.5" font-size="40">
<text x="410" y="870.7">PVP</text>
<text x="410" y="918.6">RL/PVP=2/2</text>
<text x="410" y="967">RL/PVP=3/3</text>
<text x="410" y="1014.5">RL/PVP=4/4</text>
</g>
<text transform="translate(666.0 1209) scale(0.976 1)" font-size="73" fill="#000">Time(s)</text>
<text transform="translate(106 842.5) rotate(-90) scale(0.972 1)" font-size="73" fill="#000">Water contact angle(</text>
<text transform="translate(106 186.0) rotate(-90)" font-size="73" fill="#000">)</text>
<circle cx="62" cy="239.3" r="7" fill="none" stroke="#222" stroke-width="2.3"/>
</svg></div>
</body></html>
